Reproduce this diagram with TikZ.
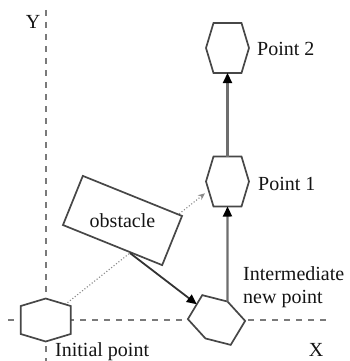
\documentclass[tikz,border=0pt]{standalone}
\usepackage{fontspec}
\setmainfont{Liberation Serif}
\usetikzlibrary{arrows.meta,calc}
\definecolor{axisgray}{HTML}{7A7A7A}
\definecolor{hexgray}{HTML}{474747}
\definecolor{linegray}{HTML}{6E6E6E}
\definecolor{dotgray}{HTML}{8A8A8A}
\definecolor{txt}{HTML}{141414}
\tikzset{
  hexline/.style={draw=hexgray, line width=1.7pt, fill=white, line join=miter},
  axisline/.style={draw=axisgray, line width=2.3pt, dash pattern=on 6pt off 6pt},
  lbl/.style={inner sep=0pt, text=txt, font=\fontsize{20}{22.5}\selectfont},
  moveline/.style={draw=linegray, line width=2.2pt, -{Triangle[length=10pt,width=9pt,color=black]}},
  deflect/.style={draw=black!80, line width=1.8pt, -{Triangle[length=10pt,width=9pt,color=black]}},
  dotline/.style={draw=dotgray, line width=1.1pt, dotted, -{Stealth[length=7pt,width=6pt]}},
  obstbox/.style={draw=hexgray, line width=1.7pt, fill=white, inner sep=0pt, text=txt,
     font=\fontsize{20}{22.5}\selectfont, minimum width=107pt, minimum height=53pt},
  hexa/.pic={
    \draw[hexline] (-21.5,0) coordinate (-w) -- (-14,-25) coordinate (-nw)
      -- (14,-25) coordinate (-ne) -- (21.5,0) coordinate (-e)
      -- (14,25) coordinate (-se) -- (-14,25) coordinate (-sw) -- cycle;
    \coordinate (-n) at (0,-25);
    \coordinate (-s) at (0,25);
    \coordinate (-c) at (0,0);
  }
}
\begin{document}
\begin{tikzpicture}[x=1pt, y=-1pt]
\useasboundingbox (0,0) rectangle (350,361);
% axes
\coordinate (ytop) at (45.7,10);
\coordinate (ybot) at (45.7,361);
\coordinate (xleft) at (8,320);
\coordinate (xright) at (326,320);
\draw[axisline] (ytop) -- (ybot);
\draw[axisline] (xleft) -- (xright);
% dotted straight path (hidden by obstacle)
\coordinate (initc) at (45.7,320);
\coordinate (dotend) at (205,193.3);
\draw[dotline] (initc) -- (dotend);
% shapes
\pic (init) [rotate=90] at (45.7,320) {hexa};
\pic (inter) [rotate=59] at (216.5,320) {hexa};
\pic (p1) at (227.5,181.5) {hexa};
\pic (p2) at (227.5,48) {hexa};
\node[obstbox, rotate=-22] (obs) at (122.5,220.5) {\rotatebox{22}{obstacle}};
% deflected path
\coordinate (hit) at ($(obs.south)!0.35!(obs.south east)$);
\draw[deflect] (hit) -- ($(inter-nw)!0.62!(inter-ne)$);
\draw[moveline] (inter-e) -- (p1-s);
\draw[moveline] (p1-n) -- (p2-s);
% labels
\node[lbl] (ylab) at (33,22) {Y};
\node[lbl] (xlab) at (316,350) {X};
\node[lbl, anchor=west] (p2lab) at (257,48.5) {Point 2};
\node[lbl, anchor=west] (p1lab) at (258,184) {Point 1};
\node[lbl, anchor=north west, align=left] (interlab) at (243,266.5) {Intermediate\\new point};
\node[lbl, anchor=base west] (initlab) at (55,356.7) {Initial point};
\end{tikzpicture}
\end{document}
